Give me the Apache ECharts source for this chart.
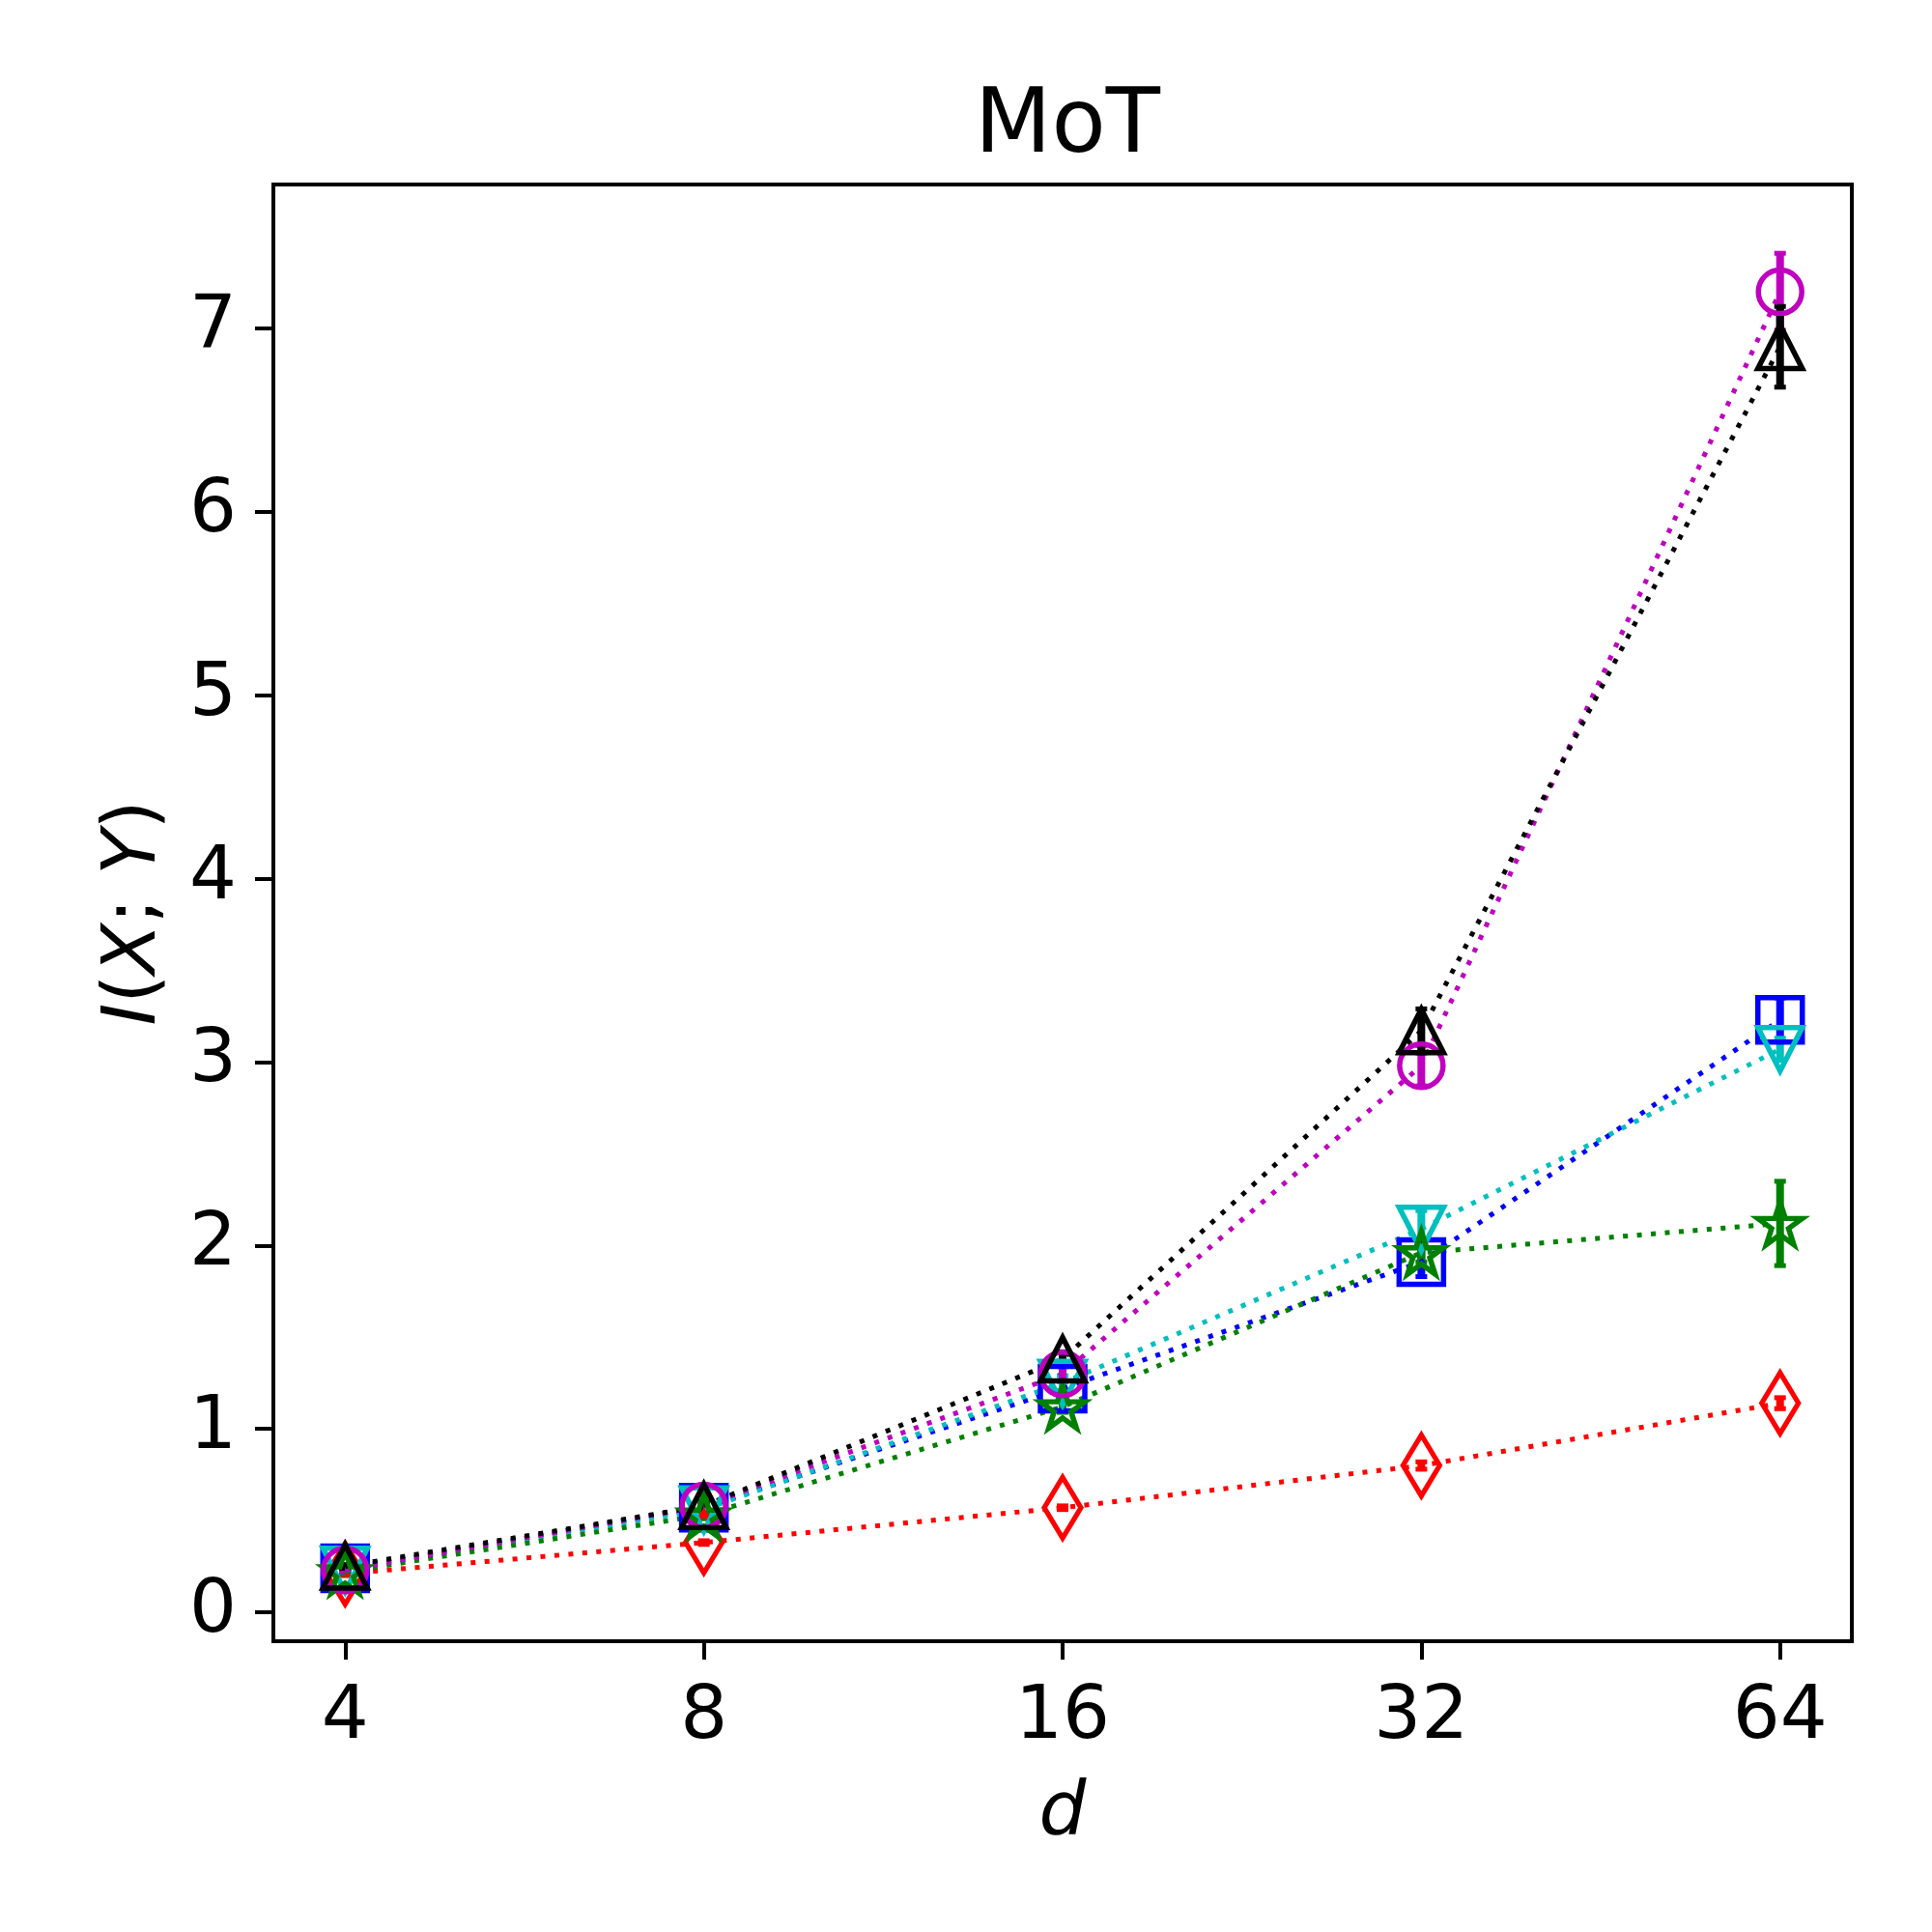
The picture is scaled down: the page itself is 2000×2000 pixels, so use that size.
<!DOCTYPE html>
<html>
<head>
<meta charset="utf-8">
<script src="https://cdn.jsdelivr.net/npm/echarts@6/dist/echarts.min.js"></script>
<style>
html, body { margin: 0; padding: 0; background: #fff; }
#charts { width: 2000px; height: 2000px; }
</style>
</head>
<body>
<div id="charts"></div>
<script>
// d values (x axis is log2 scaled)
var dVals = [4, 8, 16, 32, 64];
var xTickLabels = ['4', '8', '16', '32', '64'];
var yTicks = [0, 1, 2, 3, 4, 5, 6, 7];

// estimated I(X;Y) per method, with error bar half widths
var redVals = [0.21, 0.38, 0.57, 0.80, 1.14];
var redErr = [0.01, 0.01, 0.01, 0.02, 0.03];
var blueVals = [0.24, 0.57, 1.22, 1.91, 3.23];
var blueErr = [0.01, 0.02, 0.04, 0.08, 0.12];
var cyanVals = [0.23, 0.56, 1.25, 2.09, 3.07];
var cyanErr = [0.01, 0.02, 0.04, 0.10, 0.06];
var greenVals = [0.22, 0.53, 1.12, 1.96, 2.12];
var greenErr = [0.01, 0.02, 0.03, 0.05, 0.23];
var magentaVals = [0.23, 0.58, 1.30, 2.98, 7.20];
var magentaErr = [0.01, 0.02, 0.04, 0.11, 0.21];
var blackVals = [0.25, 0.58, 1.38, 3.17, 6.90];
var blackErr = [0.01, 0.02, 0.04, 0.12, 0.22];

var FONT = 'DejaVu Sans';

/*
 ** five point star, same shape as matplotlib '*'
 */
function starPath() {
    var pts = [];
    for (var k = 0; k < 10; k++) {
        var r = k % 2 === 0 ? 1 : 0.382;
        var a = -Math.PI / 2 + k * Math.PI / 5;
        pts.push((r * Math.cos(a)).toFixed(4) + ',' + (r * Math.sin(a)).toFixed(4));
    }
    return 'path://M' + pts.join('L') + 'Z';
}

var methods = [
    { color: '#ff0000', vals: redVals, err: redErr, symbol: 'diamond', size: [38, 63], rotate: 0 },
    { color: '#0000ff', vals: blueVals, err: blueErr, symbol: 'rect', size: [46, 46], rotate: 0 },
    { color: '#00bfbf', vals: cyanVals, err: cyanErr, symbol: 'triangle', size: [46, 45], rotate: 180 },
    { color: '#008000', vals: greenVals, err: greenErr, symbol: starPath(), size: [46, 44], rotate: 0 },
    { color: '#bf00bf', vals: magentaVals, err: magentaErr, symbol: 'circle', size: [45, 45], rotate: 0 },
    { color: '#000000', vals: blackVals, err: blackErr, symbol: 'triangle', size: [46, 45], rotate: 0 }
];

function errSeries(m) {
    var data = dVals.map(function (d, i) {
        return [Math.log2(d), m.vals[i] - m.err[i], m.vals[i] + m.err[i]];
    });
    return {
        type: 'custom',
        silent: true,
        data: data,
        encode: { x: 0, y: [1, 2] },
        renderItem: function (params, api) {
            var lo = api.coord([api.value(0), api.value(1)]);
            var hi = api.coord([api.value(0), api.value(2)]);
            var hw = 6;
            return {
                type: 'group',
                children: [
                    { type: 'line', shape: { x1: lo[0], y1: lo[1], x2: hi[0], y2: hi[1] }, style: { stroke: m.color, lineWidth: 8 } },
                    { type: 'line', shape: { x1: lo[0] - hw, y1: lo[1], x2: lo[0] + hw, y2: lo[1] }, style: { stroke: m.color, lineWidth: 5 } },
                    { type: 'line', shape: { x1: hi[0] - hw, y1: hi[1], x2: hi[0] + hw, y2: hi[1] }, style: { stroke: m.color, lineWidth: 5 } }
                ]
            };
        }
    };
}

var series = [];
methods.forEach(function (m) {
    series.push({
        type: 'line',
        data: dVals.map(function (d, i) { return [Math.log2(d), m.vals[i]]; }),
        symbol: m.symbol,
        symbolSize: m.size,
        symbolRotate: m.rotate,
        showAllSymbol: true,
        lineStyle: { color: m.color, width: 5, type: [5, 9.5], cap: 'butt' },
        itemStyle: { color: 'rgba(0,0,0,0)', borderColor: m.color, borderWidth: 5.5 },
        emphasis: { disabled: true }
    });
    series.push(errSeries(m));
});

var myChart = echarts.init(document.getElementById('charts'), null, { renderer: 'canvas' });
var option = {
    animation: false,
    backgroundColor: '#fff',
    title: {
        text: 'MoT',
        left: 1100,
        top: 82,
        textAlign: 'center',
        textStyle: { fontFamily: FONT, fontSize: 92, fontWeight: 'normal', color: '#000' }
    },
    grid: {
        left: 283, top: 191, width: 1634, height: 1508,
        show: true, borderColor: '#000', borderWidth: 4
    },
    xAxis: {
        type: 'value',
        min: Math.log2(4) - 0.2,
        max: Math.log2(64) + 0.2,
        axisLine: { show: true, onZero: false, lineStyle: { color: '#000', width: 4 } },
        axisTick: { show: true, customValues: dVals.map(Math.log2), length: 19, lineStyle: { color: '#000', width: 4 } },
        axisLabel: {
            customValues: dVals.map(Math.log2),
            formatter: function (v) { return xTickLabels[Math.round(v) - 2]; },
            fontFamily: FONT, fontSize: 77, color: '#000', margin: 41
        },
        splitLine: { show: false },
        name: 'd',
        nameLocation: 'middle',
        nameGap: 140,
        nameTextStyle: { fontFamily: FONT, fontSize: 77, fontStyle: 'italic', color: '#000' }
    },
    yAxis: {
        type: 'value',
        min: -0.158,
        max: 7.785,
        axisLine: { show: true, onZero: false, lineStyle: { color: '#000', width: 4 } },
        axisTick: { show: true, customValues: yTicks, length: 19, lineStyle: { color: '#000', width: 4 } },
        axisLabel: {
            customValues: yTicks,
            fontFamily: FONT, fontSize: 77, color: '#000', margin: 38
        },
        splitLine: { show: false },
        name: '{it|I}{n|(}{it|X}{n|; }{it|Y}{n|)}',
        nameLocation: 'middle',
        nameRotate: 90,
        nameGap: 105,
        nameTextStyle: {
            color: '#000',
            rich: {
                it: { fontFamily: FONT, fontSize: 77, fontStyle: 'italic', color: '#000' },
                n: { fontFamily: FONT, fontSize: 77, color: '#000' }
            }
        }
    },
    series: series
};
myChart.setOption(option);
</script>
</body>
</html>
